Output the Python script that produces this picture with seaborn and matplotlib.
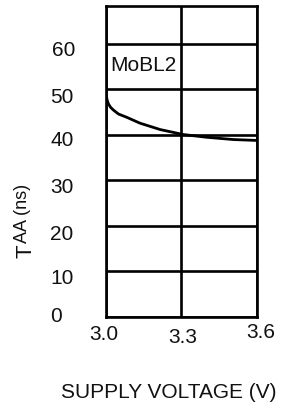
import matplotlib
matplotlib.use('Agg')
import matplotlib.pyplot as plt
import matplotlib.transforms as mtransforms
import seaborn as sns
import pandas as pd

# TAA vs supply voltage
voltage = [3.0, 3.004, 3.009, 3.018, 3.029, 3.05, 3.082, 3.135, 3.215, 3.307, 3.40, 3.506, 3.6]
taa_ns = [49.2, 47.8, 46.9, 46.1, 45.5, 44.6, 43.9, 42.6, 41.2, 40.1, 39.5, 39.0, 38.8]

x_ticks = [3.0, 3.3, 3.6]
x_tick_labels = ['3.0', '3.3', '3.6']
y_ticks = [0, 10, 20, 30, 40, 50, 60]
label = 'MoBL2'

sns.set_theme(style='white')
plt.rcParams['font.family'] = ['Liberation Sans', 'DejaVu Sans']

W, H = 283, 405
df = pd.DataFrame({'v': voltage, 't': taa_ns})

fig = plt.figure(figsize=(W / 100, H / 100), dpi=100)
ax = fig.add_axes([106 / W, 1 - 317 / H, 151 / W, 311 / H])

sns.lineplot(data=df, x='v', y='t', color='black', linewidth=2.0, ax=ax)

ax.set_xlim(3.0, 3.6)
ax.set_ylim(0, 68.35)
ax.set_xticks(x_ticks)
ax.set_xticklabels(x_tick_labels)
ax.set_yticks(y_ticks)
ax.tick_params(labelsize=15, colors='#111111')
ax.tick_params(axis='x', length=2.5, width=1.9, color='black', pad=3)
ax.tick_params(axis='y', length=0, pad=40.3)
for t in ax.get_yticklabels():
    t.set_horizontalalignment('left')
ax.grid(True, color='black', linewidth=1.9)
for s in ax.spines.values():
    s.set_color('black')
    s.set_linewidth(1.9)
ax.set_xlabel('')
ax.set_ylabel('')

# small per-label nudges (px) to follow the scanned layout
y_nudge = [(0, 2), (0, -5), (0, -7), (0, -5), (0, -4), (0, -6), (1.5, -5)]
x_nudge = [(-2, 0), (1, -3), (4, 2)]
for t, (dx, dy) in zip(ax.get_yticklabels(), y_nudge):
    t.set_transform(t.get_transform() + mtransforms.Affine2D().translate(dx, dy))
for t, (dx, dy) in zip(ax.get_xticklabels(), x_nudge):
    t.set_transform(t.get_transform() + mtransforms.Affine2D().translate(dx, dy))

ax.text(3.016, 54.0, label, fontsize=15, va='baseline', ha='left', color='#111111')

fig.text(169 / W, 1 - 392.5 / H, 'SUPPLY VOLTAGE (V)', fontsize=15,
         ha='center', va='center', color='#111111')
# T with subscript AA (ns), rotated
fig.text(31 / W, 1 - 258 / H, 'T', fontsize=16, rotation=90,
         rotation_mode='anchor', ha='left', va='baseline', color='#111111')
fig.text(26.7 / W, 1 - 243 / H, 'AA (ns)', fontsize=13, rotation=90,
         rotation_mode='anchor', ha='left', va='baseline', color='#111111')

fig.savefig('out.png', dpi=100)
